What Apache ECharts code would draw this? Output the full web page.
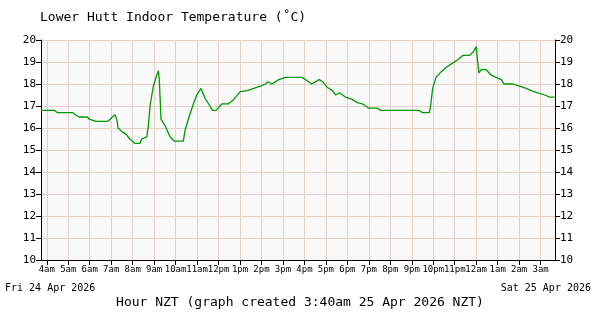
<!DOCTYPE html>
<html>
<head>
<meta charset="utf-8">
<script src="https://cdn.jsdelivr.net/npm/echarts@6/dist/echarts.min.js"></script>
<style>html,body{margin:0;padding:0;background:#fff}#c{width:600px;height:320px}</style>
</head>
<body>
<div id="c"></div>
<script>
// hours since midnight Fri 24 Apr 2026 (NZT)
var hours = [3.73,4.37,4.48,5.22,5.32,5.50,5.89,5.97,6.30,6.82,6.95,7.17,7.26,7.32,7.55,7.71,7.86,8.11,8.34,8.42,8.66,8.73,8.81,8.96,9.12,9.20,9.24,9.32,9.51,9.74,9.94,10.36,10.44,10.59,10.83,10.98,11.18,11.37,11.60,11.71,11.88,12.16,12.47,12.71,13.01,13.33,13.64,13.95,14.18,14.30,14.49,14.80,15.11,15.89,16.13,16.34,16.68,16.86,17.06,17.30,17.46,17.64,17.92,18.23,18.46,18.69,19.00,19.39,19.55,20.02,21.35,21.48,21.82,21.89,21.97,22.13,22.36,22.59,22.90,23.14,23.37,23.68,23.86,24.00,24.12,24.23,24.47,24.70,24.93,25.17,25.29,25.71,26.02,26.33,26.56,26.87,27.19,27.42,27.65];
var temps = [16.8,16.8,16.7,16.7,16.6,16.5,16.5,16.4,16.3,16.3,16.4,16.6,16.4,16.0,15.8,15.7,15.5,15.3,15.3,15.5,15.6,16.1,17.0,17.9,18.4,18.6,18.2,16.4,16.1,15.6,15.4,15.4,15.9,16.4,17.1,17.5,17.8,17.35,17.0,16.8,16.8,17.1,17.1,17.3,17.65,17.7,17.8,17.9,18.0,18.1,18.0,18.2,18.3,18.3,18.15,18.0,18.2,18.1,17.85,17.7,17.5,17.6,17.4,17.3,17.15,17.1,16.9,16.9,16.8,16.8,16.8,16.7,16.7,17.1,17.8,18.3,18.55,18.75,18.95,19.1,19.3,19.3,19.45,19.7,18.5,18.65,18.65,18.4,18.3,18.2,18.0,18.0,17.9,17.8,17.7,17.6,17.5,17.4,17.4];
var tickHours = [4,5,6,7,8,9,10,11,12,13,14,15,16,17,18,19,20,21,22,23,24,25,26,27];
var tickLabels = ['4am','5am','6am','7am','8am','9am','10am','11am','12pm','1pm','2pm','3pm','4pm','5pm','6pm','7pm','8pm','9pm','10pm','11pm','12am','1am','2am','3am'];
var xMin = 3.73, xMax = 27.67;
var yMin = 10, yMax = 20, yStep = 1;
var titleText = 'Lower Hutt Indoor Temperature (\u02daC)';
var xTitle = 'Hour NZT (graph created 3:40am 25 Apr 2026 NZT)';
var startDate = 'Fri 24 Apr 2026';
var endDate = 'Sat 25 Apr 2026';

var font = 'DejaVu Sans Mono';
var gridColor = '#e6cfc6';
var data = hours.map(function(h, i){ return [h, temps[i]]; });
var labelMap = {};
tickHours.forEach(function(h, i){ labelMap[h] = tickLabels[i]; });

var chart = echarts.init(document.getElementById('c'), null, {renderer: 'canvas'});
function yAxis(pos, grid) {
  return {
    type: 'value', position: pos, min: yMin, max: yMax, interval: yStep,
    axisLine: {show: true, lineStyle: {color: '#000', width: 1}},
    axisTick: {show: true, length: 5, lineStyle: {color: '#000'}},
    axisLabel: {color: '#000', fontFamily: font, fontSize: 11, margin: 5},
    splitLine: {show: grid, lineStyle: {color: gridColor, width: 1}}
  };
}
function txt(size) { return {fontFamily: font, fontSize: size, fontWeight: 'normal', color: '#000'}; }
chart.setOption({
  animation: false,
  backgroundColor: '#ffffff',
  title: [
    {text: titleText, left: 40, top: 11, padding: 0, textStyle: txt(13)},
    {text: startDate, left: 5, top: 283, padding: 0, textStyle: txt(10)},
    {text: endDate, right: 9, top: 283, padding: 0, textStyle: txt(10)},
    {text: xTitle, left: 'center', top: 296, padding: 0, textStyle: txt(13)}
  ],
  grid: {left: 41, right: 45, top: 40, bottom: 60, show: true, backgroundColor: '#f9f9f9', borderWidth: 0},
  xAxis: {
    type: 'value', min: xMin, max: xMax,
    axisLine: {show: true, lineStyle: {color: '#000'}},
    axisTick: {show: true, length: 5, lineStyle: {color: '#000'}, customValues: tickHours},
    axisLabel: {show: true, fontFamily: font, fontSize: 9, color: '#000', margin: 5, customValues: tickHours,
      formatter: function(v){ return labelMap[Math.round(v)] || ''; }},
    splitLine: {show: true, lineStyle: {color: gridColor, width: 1}}
  },
  yAxis: [yAxis('left', true), yAxis('right', false)],
  series: [{
    type: 'line', data: data, showSymbol: false, symbol: 'none',
    lineStyle: {color: '#009900', width: 1.3}, itemStyle: {color: '#009900'}
  }]
});
</script>
</body>
</html>
